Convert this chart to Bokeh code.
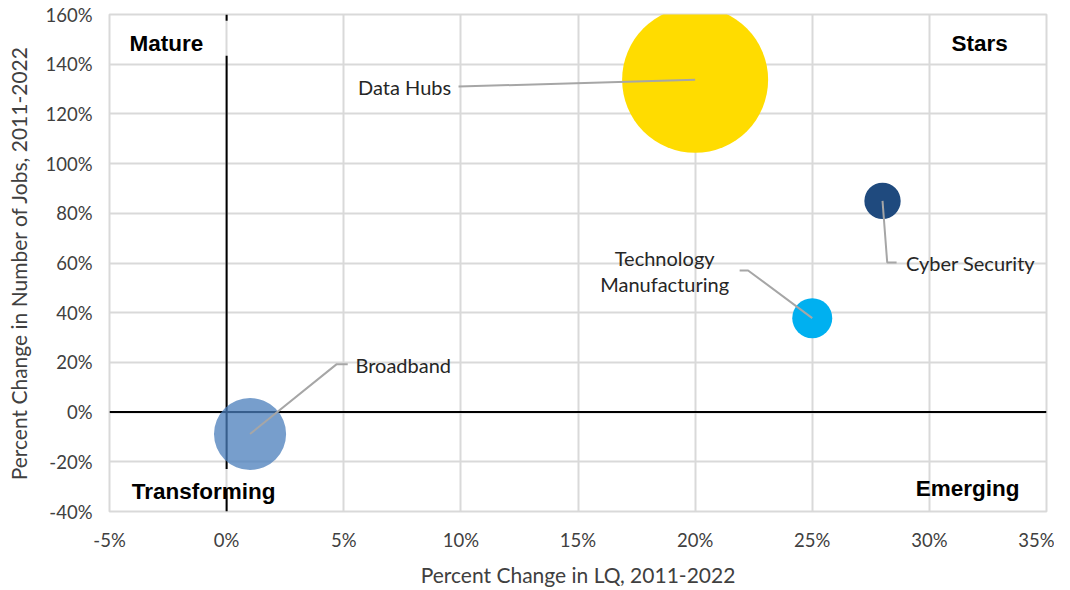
from bokeh.plotting import figure
from bokeh.layouts import row
from bokeh.models import Range1d, FixedTicker, NumeralTickFormatter, ColumnDataSource, Spacer
from bokeh.embed import file_html
from bokeh.resources import INLINE
from bokeh.core.properties import value
import numpy as np

# ---- data ----
clusters = ["Data Hubs", "Cyber Security", "Technology\nManufacturing", "Broadband"]
lq_change = [0.20, 0.28, 0.25, 0.01]          # Percent change in LQ
jobs_change = [1.337, 0.85, 0.378, -0.088]    # Percent change in number of jobs
bubble_size = [5330, 330, 400, 1300]          # bubble size value (area)
colors = ["#FFDC00", "#1F4A7E", "#00B0F0", "#4A7EBB"]
alphas = [1.0, 1.0, 1.0, 0.75]

# label anchor points (data units) and leader elbows
label_x = [0.076, 0.290, 0.187, 0.055]
label_y = [1.31, 0.598, 0.566, 0.189]
label_align = ["center", "left", "center", "left"]
elbow_x = [0.099, 0.282, 0.2226, 0.047]
elbow_y = [1.31, 0.602, 0.570, 0.193]
end_x = [0.099, 0.286, 0.219, 0.0517]

x_ticks = [-0.05, 0.0, 0.05, 0.10, 0.15, 0.20, 0.25, 0.30, 0.35]
y_ticks = [-0.4, -0.2, 0.0, 0.2, 0.4, 0.6, 0.8, 1.0, 1.2, 1.4, 1.6]
x_title = "Percent Change in LQ, 2011-2022"
y_title = "Percent Change in Number of Jobs, 2011-2022"

quadrants = ["Mature", "Stars", "Transforming", "Emerging"]
quad_x = [-0.0415, 0.3335, -0.0405, 0.3385]
quad_y = [1.483, 1.483, -0.318, -0.306]
quad_align = ["left", "right", "left", "right"]

# vertical divider pieces (y extents)
div_y0 = [1.6, 1.434, -0.31]
div_y1 = [1.575, -0.229, -0.4]

p = figure(width=1051, height=589, output_backend="svg", toolbar_location=None,
           x_range=Range1d(-0.05, 0.35), y_range=Range1d(-0.4, 1.6),
           min_border_left=60, min_border_right=8, min_border_top=14, min_border_bottom=60)
p.background_fill_color = "white"
p.outline_line_color = "#D9D9D9"
p.outline_line_width = 2

for ax, ticks in ((p.xaxis[0], x_ticks), (p.yaxis[0], y_ticks)):
    ax.ticker = FixedTicker(ticks=ticks)
    ax.formatter = NumeralTickFormatter(format="0%")
    ax.axis_line_color = None
    ax.major_tick_line_color = None
    ax.minor_tick_line_color = None
    ax.major_tick_out = 0
    ax.major_tick_in = 0
    ax.minor_tick_out = 0
    ax.major_label_text_font = "Lato"
    ax.major_label_text_font_size = "18.5px"
    ax.major_label_text_color = "#404040"
    ax.axis_label_text_font = "Lato"
    ax.axis_label_text_font_size = "21px"
    ax.axis_label_text_font_style = "normal"
    ax.axis_label_text_color = "#404040"

p.xaxis.axis_label = x_title
p.yaxis.axis_label = y_title
p.xaxis.major_label_standoff = 17
p.yaxis.major_label_standoff = 17
p.xaxis.axis_label_standoff = 8
p.yaxis.axis_label_standoff = 11

p.xgrid.ticker = FixedTicker(ticks=x_ticks)
p.ygrid.ticker = FixedTicker(ticks=y_ticks)
p.grid.grid_line_color = "#D9D9D9"
p.grid.grid_line_width = 2

# quadrant dividers
p.line(x=[x_ticks[0], x_ticks[-1]], y=[0, 0], line_color="black", line_width=2)
p.segment(x0=[0] * 3, x1=[0] * 3, y0=div_y0, y1=div_y1, line_color="black", line_width=2)

# bubbles
max_d = 146
diam = [max_d * np.sqrt(s / max(bubble_size)) for s in bubble_size]
src = ColumnDataSource(dict(x=lq_change, y=jobs_change, d=diam, c=colors, a=alphas))
p.scatter(x="x", y="y", size="d", fill_color="c", fill_alpha="a", line_color=None, source=src)

# leader lines
xs = [[lq_change[i], elbow_x[i], end_x[i]] for i in range(4)]
ys = [[jobs_change[i], elbow_y[i], elbow_y[i]] for i in range(4)]
p.multi_line(xs=xs, ys=ys, line_color="#A6A6A6", line_width=2)

lsrc = ColumnDataSource(dict(x=label_x, y=label_y, t=clusters, al=label_align))
p.text(x="x", y="y", text="t", text_align="al", text_baseline="middle", source=lsrc,
       text_font=value("Lato"), text_font_size="20px", text_color="#262626", text_line_height=1.08)

# quadrant labels
qsrc = ColumnDataSource(dict(x=quad_x, y=quad_y, t=quadrants, al=quad_align))
p.text(x="x", y="y", text="t", text_align="al", text_baseline="middle", source=qsrc,
       text_font=value("Liberation Sans"), text_font_style="bold", text_font_size="22.5px",
       text_color="black")

layout = row(Spacer(width=3, height=589), p)
open("out.html", "w").write(file_html(layout, INLINE))
